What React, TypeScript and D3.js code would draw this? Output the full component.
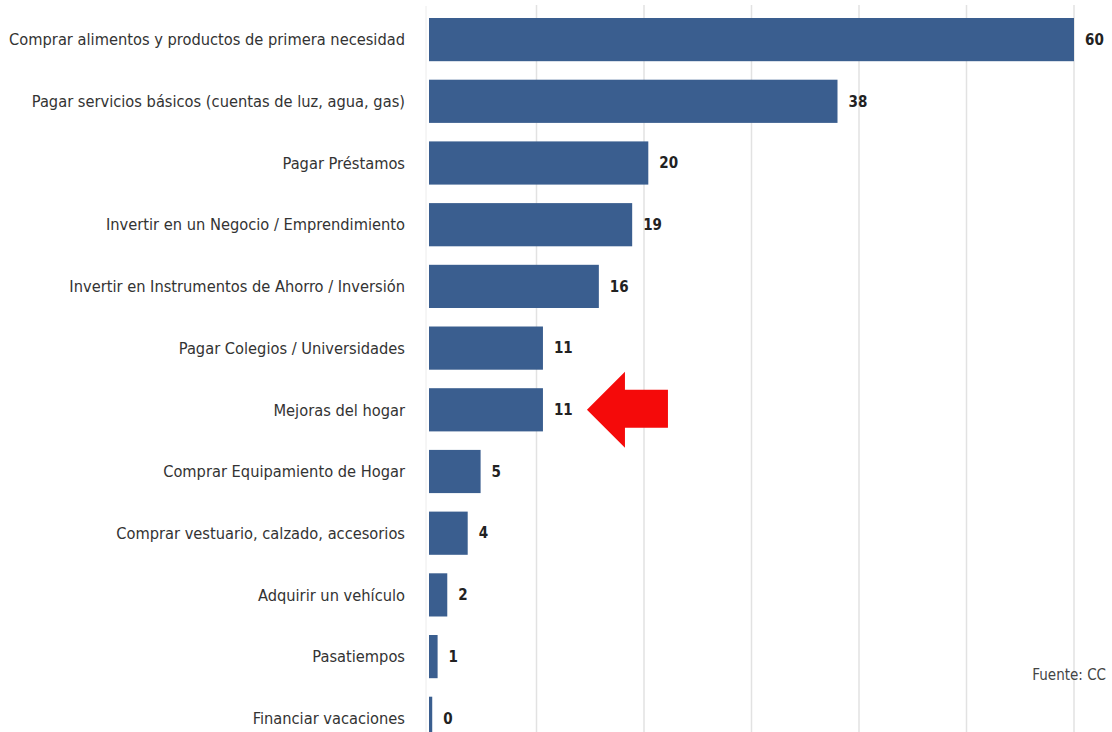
import React from "react";
import * as d3 from "d3";

const categories = [
  "Comprar alimentos y productos de primera necesidad",
  "Pagar servicios básicos (cuentas de luz, agua, gas)",
  "Pagar Préstamos",
  "Invertir en un Negocio / Emprendimiento",
  "Invertir en Instrumentos de Ahorro / Inversión",
  "Pagar Colegios / Universidades",
  "Mejoras del hogar",
  "Comprar Equipamiento de Hogar",
  "Comprar vestuario, calzado, accesorios",
  "Adquirir un vehículo",
  "Pasatiempos",
  "Financiar vacaciones",
];
const values = [60, 38, 20.4, 18.9, 15.8, 10.6, 10.6, 4.8, 3.6, 1.7, 0.8, 0.3];
const valueLabels = ["60", "38", "20", "19", "16", "11", "11", "5", "4", "2", "1", "0"];
const gridTicks = [10, 20, 30, 40, 50, 60];
const highlighted = "Mejoras del hogar";
const sourceText = "Fuente: CC";

const W = 1112;
const H = 732;

export default function App() {
  const x = d3.scaleLinear().domain([0, 60]).range([429, 1074]);
  const step = 61.7;
  const top = 8.75;
  const y = d3
    .scaleBand<string>()
    .domain(categories)
    .range([top, top + categories.length * step])
    .paddingInner(0.3)
    .paddingOuter(0.15);
  const bw = y.bandwidth();
  const labelFont = "'DejaVu Sans Condensed', 'Liberation Sans Narrow', sans-serif";

  const hi = categories.indexOf(highlighted);
  const cy = (y(highlighted) as number) + bw / 2;
  const tipX = x(values[hi]) + 44;
  const arrowPts: [number, number][] = [
    [tipX, cy],
    [tipX + 38, cy - 38],
    [tipX + 38, cy - 20],
    [tipX + 81, cy - 20],
    [tipX + 81, cy + 18],
    [tipX + 38, cy + 18],
    [tipX + 38, cy + 38],
  ];
  const line = d3.line();

  return (
    <svg
      width={W}
      height={H}
      style={{ position: "absolute", left: 0, top: 0, background: "#fff" }}
    >
      <line x1={426} x2={426} y1={6} y2={H} stroke="#ececec" strokeWidth={1} />
      {gridTicks.map((t) => (
        <line
          key={t}
          x1={x(t)}
          x2={x(t)}
          y1={5}
          y2={H}
          stroke="#e2e2e2"
          strokeWidth={1.5}
        />
      ))}
      {categories.map((c, i) => {
        const yy = y(c) as number;
        return (
          <g key={c}>
            <rect
              x={x(0)}
              y={yy}
              width={Math.max(x(values[i]) - x(0), 0)}
              height={bw}
              fill="#3a5e8f"
            />
            <text
              x={405}
              y={yy + bw / 2}
              dy="0.35em"
              textAnchor="end"
              fontFamily={labelFont}
              fontSize={16.3}
              fill="#333"
            >
              {c}
            </text>
            <text
              x={x(values[i]) + 11}
              y={yy + bw / 2}
              dy="0.35em"
              fontFamily={labelFont}
              fontWeight="bold"
              fontSize={15}
              fill="#222"
            >
              {valueLabels[i]}
            </text>
          </g>
        );
      })}
      <path d={line(arrowPts) + "Z"} fill="#f50a0a" />
      <text
        x={1106}
        y={675}
        dy="0.35em"
        textAnchor="end"
        fontFamily={labelFont}
        fontSize={15}
        fill="#444"
      >
        {sourceText}
      </text>
    </svg>
  );
}
